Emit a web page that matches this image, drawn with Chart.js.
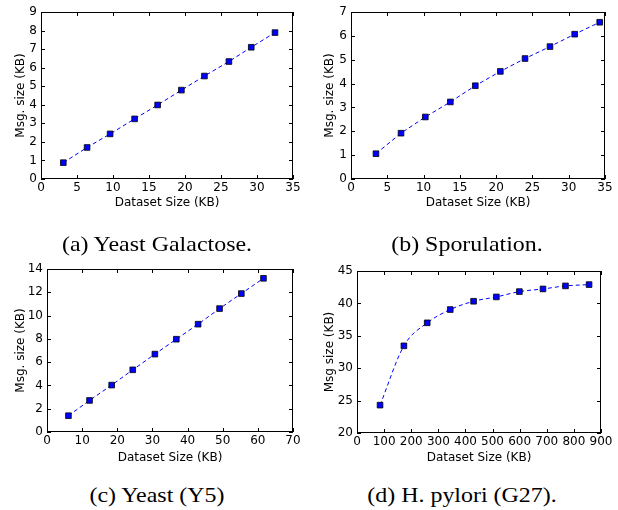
<!DOCTYPE html>
<html>
<head>
<meta charset="utf-8">
<script src="https://cdn.jsdelivr.net/npm/chart.js@4.4.0/dist/chart.umd.min.js"></script>
<style>
  html, body { margin: 0; padding: 0; background: #fff; }
  body { width: 618px; height: 510px; position: relative; overflow: hidden; }
  .panel { position: absolute; width: 309px; height: 215px; }
  .cap {
    position: absolute; white-space: nowrap; color: #000; line-height: 1;
    font-family: "Liberation Serif", "Times New Roman", serif; font-size: 21px;
    transform: translate(-50%, -50%) scaleX(1.14);
  }
</style>
</head>
<body>
<div class="panel" style="left:0;top:0"><canvas id="chartA" width="309" height="215"></canvas></div>
<div class="panel" style="left:309px;top:0"><canvas id="chartB" width="309" height="215"></canvas></div>
<div class="panel" style="left:0;top:255px"><canvas id="chartC" width="309" height="215"></canvas></div>
<div class="panel" style="left:309px;top:255px"><canvas id="chartD" width="309" height="215"></canvas></div>

<div class="cap" style="left:157px;top:244px">(a) Yeast Galactose.</div>
<div class="cap" style="left:467px;top:244px">(b) Sporulation.</div>
<div class="cap" style="left:157px;top:495px">(c) Yeast (Y5)</div>
<div class="cap" style="left:462px;top:495px">(d) H. pylori (G27).</div>

<script>
// dataset size (KB) vs message size (KB)
const galactoseX = [3.1, 6.4, 9.6, 13.0, 16.2, 19.5, 22.7, 26.1, 29.2, 32.5];
const galactoseY = [0.88, 1.70, 2.43, 3.24, 3.99, 4.79, 5.55, 6.33, 7.10, 7.89];

const sporulationX = [3.44, 6.89, 10.24, 13.69, 17.13, 20.58, 23.98, 27.42, 30.82, 34.27];
const sporulationY = [1.06, 1.92, 2.60, 3.23, 3.91, 4.51, 5.05, 5.55, 6.07, 6.57];

const yeastY5X = [6.1, 12.1, 18.4, 24.4, 30.7, 36.8, 43.0, 49.1, 55.3, 61.6];
const yeastY5Y = [1.40, 2.71, 4.03, 5.34, 6.69, 7.97, 9.26, 10.60, 11.89, 13.20];

const pyloriX = [85, 173, 259, 344, 430, 514, 599, 686, 769, 856];
const pyloriY = [24.3, 33.45, 37.0, 39.05, 40.33, 41.0, 41.82, 42.23, 42.7, 42.9];

const TICK_FONT = {family: "'DejaVu Sans'", size: 12};
const LABEL_FONT = {family: "'DejaVu Sans'", size: 12};

// matplotlib-style frame with inward ticks on all four sides
const frameTicks = {
  id: 'frameTicks',
  afterDraw(chart) {
    const {ctx, chartArea: a, scales: {x, y}} = chart;
    ctx.save();
    ctx.strokeStyle = '#000';
    ctx.lineWidth = 1;
    ctx.beginPath();
    x.ticks.forEach(t => {
      const px = Math.round(x.getPixelForValue(t.value)) + 0.5;
      ctx.moveTo(px, a.bottom); ctx.lineTo(px, a.bottom - 4);
      ctx.moveTo(px, a.top); ctx.lineTo(px, a.top + 4);
    });
    y.ticks.forEach(t => {
      const py = Math.round(y.getPixelForValue(t.value)) + 0.5;
      ctx.moveTo(a.left, py); ctx.lineTo(a.left + 4, py);
      ctx.moveTo(a.right, py); ctx.lineTo(a.right - 4, py);
    });
    ctx.stroke();
    ctx.strokeRect(Math.round(a.left) + 0.5, Math.round(a.top) + 0.5,
                   Math.round(a.right - a.left) - 1, Math.round(a.bottom - a.top) - 1);
    ctx.restore();
  }
};

function makePanel(id, xs, ys, xMax, xStep, yMin, yMax, yStep, yTitle, box, smooth) {
  new Chart(document.getElementById(id), {
    type: 'scatter',
    data: {
      datasets: [{
        data: xs.map((v, i) => ({x: v, y: ys[i]})),
        showLine: true,
        borderColor: '#0000ff',
        borderWidth: 1,
        borderDash: [4, 3],
        cubicInterpolationMode: smooth ? 'monotone' : 'default',
        pointStyle: 'rect',
        pointRadius: 4,
        pointBackgroundColor: '#0000ff',
        pointBorderColor: '#000',
        pointBorderWidth: 0.8,
        clip: false
      }]
    },
    options: {
      responsive: false,
      animation: false,
      devicePixelRatio: 1,
      layout: {padding: {left: 0, top: box.t, right: 309 - box.r, bottom: 0}},
      plugins: {legend: {display: false}, tooltip: {enabled: false}},
      scales: {
        x: {
          type: 'linear', min: 0, max: xMax,
          grid: {display: false, drawTicks: false},
          border: {display: false},
          ticks: {stepSize: xStep, autoSkip: false, maxRotation: 0, padding: 2, color: '#000', font: TICK_FONT},
          title: {display: true, text: 'Dataset Size (KB)', color: '#000', font: LABEL_FONT, padding: {top: 0, bottom: 5}},
          afterFit: s => { s.height = 215 - box.b; }
        },
        y: {
          type: 'linear', min: yMin, max: yMax,
          grid: {display: false, drawTicks: false},
          border: {display: false},
          ticks: {stepSize: yStep, autoSkip: false, padding: 4, color: '#000', font: TICK_FONT},
          title: {display: true, text: yTitle, color: '#000', font: LABEL_FONT, padding: {top: 14, bottom: 0}},
          afterFit: s => { s.width = box.l; }
        }
      }
    },
    plugins: [frameTicks]
  });
}

makePanel('chartA', galactoseX, galactoseY, 35, 5, 0, 9, 1, 'Msg. size (KB)', {l: 41, t: 12, r: 293, b: 179}, false);
makePanel('chartB', sporulationX, sporulationY, 35, 5, 0, 7, 1, 'Msg. size (KB)', {l: 42, t: 12, r: 296, b: 179}, false);
makePanel('chartC', yeastY5X, yeastY5Y, 70, 10, 0, 14, 2, 'Msg. size (KB)', {l: 47, t: 14, r: 293, b: 177}, false);
makePanel('chartD', pyloriX, pyloriY, 900, 100, 20, 45, 5, 'Msg size (KB)', {l: 48, t: 16, r: 292, b: 178}, true);
</script>
</body>
</html>
